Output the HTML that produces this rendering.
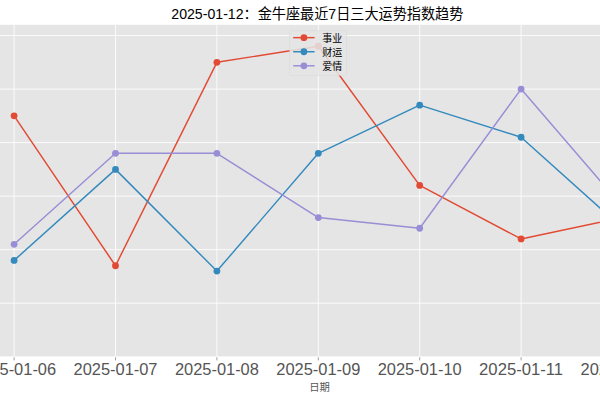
<!DOCTYPE html>
<html lang="zh"><head><meta charset="utf-8"><title>2025-01-12：金牛座最近7日三大运势指数趋势</title>
<style>html,body{margin:0;padding:0;background:#fff;overflow:hidden}body{width:600px;height:400px;font-family:"Liberation Sans",sans-serif}svg{display:block}</style>
</head><body>
<svg width="600" height="400" viewBox="0 0 600 400" role="img" aria-label="2025-01-12：金牛座最近7日三大运势指数趋势">
<rect width="600" height="400" fill="#fff"/>
<rect x="0" y="24.8" width="600" height="331.6" fill="#E5E5E5"/>
<path d="M14.1 24.8V356.4M115.5 24.8V356.4M216.9 24.8V356.4M318.3 24.8V356.4M419.7 24.8V356.4M521.1 24.8V356.4M0 35.55H600M0 89.08H600M0 142.61H600M0 196.14H600M0 249.67H600M0 303.2H600" stroke="#fff" stroke-width="0.85" fill="none"/>
<path d="M14.1 357.3v3.1M115.5 357.3v3.1M216.9 357.3v3.1M318.3 357.3v3.1M419.7 357.3v3.1M521.1 357.3v3.1" stroke="#555" stroke-opacity="0.7" stroke-width="0.8" fill="none"/>
<defs><clipPath id="c"><rect x="0" y="24.8" width="600" height="331.6"/></clipPath></defs>
<g clip-path="url(#c)">
<g><title>事业</title><polyline points="14.1,115.84 115.5,265.73 216.9,62.31 318.3,46.26 419.7,185.43 521.1,238.96 622.5,217.55" fill="none" stroke="#E24A33" stroke-width="1.45" stroke-linejoin="round" stroke-linecap="butt"/>
<circle cx="14.1" cy="115.84" r="3.4" fill="#E24A33"/>
<circle cx="115.5" cy="265.73" r="3.4" fill="#E24A33"/>
<circle cx="216.9" cy="62.31" r="3.4" fill="#E24A33"/>
<circle cx="318.3" cy="46.26" r="3.4" fill="#E24A33"/>
<circle cx="419.7" cy="185.43" r="3.4" fill="#E24A33"/>
<circle cx="521.1" cy="238.96" r="3.4" fill="#E24A33"/>
<circle cx="622.5" cy="217.55" r="3.4" fill="#E24A33"/>
</g>
<g><title>财运</title><polyline points="14.1,260.38 115.5,169.38 216.9,271.08 318.3,153.32 419.7,105.14 521.1,137.26 622.5,228.26" fill="none" stroke="#348ABD" stroke-width="1.45" stroke-linejoin="round" stroke-linecap="butt"/>
<circle cx="14.1" cy="260.38" r="3.4" fill="#348ABD"/>
<circle cx="115.5" cy="169.38" r="3.4" fill="#348ABD"/>
<circle cx="216.9" cy="271.08" r="3.4" fill="#348ABD"/>
<circle cx="318.3" cy="153.32" r="3.4" fill="#348ABD"/>
<circle cx="419.7" cy="105.14" r="3.4" fill="#348ABD"/>
<circle cx="521.1" cy="137.26" r="3.4" fill="#348ABD"/>
<circle cx="622.5" cy="228.26" r="3.4" fill="#348ABD"/>
</g>
<g><title>爱情</title><polyline points="14.1,244.32 115.5,153.32 216.9,153.32 318.3,217.55 419.7,228.26 521.1,89.08 622.5,206.85" fill="none" stroke="#988ED5" stroke-width="1.45" stroke-linejoin="round" stroke-linecap="butt"/>
<circle cx="14.1" cy="244.32" r="3.4" fill="#988ED5"/>
<circle cx="115.5" cy="153.32" r="3.4" fill="#988ED5"/>
<circle cx="216.9" cy="153.32" r="3.4" fill="#988ED5"/>
<circle cx="318.3" cy="217.55" r="3.4" fill="#988ED5"/>
<circle cx="419.7" cy="228.26" r="3.4" fill="#988ED5"/>
<circle cx="521.1" cy="89.08" r="3.4" fill="#988ED5"/>
<circle cx="622.5" cy="206.85" r="3.4" fill="#988ED5"/>
</g>
</g>
<rect x="289.6" y="30.6" width="57" height="45" rx="2" ry="2" fill="#E5E5E5" fill-opacity="0.87" stroke="#D4D4D4" stroke-opacity="0.4" stroke-width="0.8"/>
<g><title>事业</title>
<path d="M293.2 37.65H314.6" stroke="#E24A33" stroke-width="1.45" fill="none"/>
<circle cx="303.9" cy="37.65" r="3.4" fill="#E24A33"/>
<text x="322.2" y="41.7" font-size="10" fill="#000" font-family="'Liberation Sans','Noto Sans CJK SC',sans-serif">事业</text>
</g>
<g><title>财运</title>
<path d="M293.2 51.75H314.6" stroke="#348ABD" stroke-width="1.45" fill="none"/>
<circle cx="303.9" cy="51.75" r="3.4" fill="#348ABD"/>
<text x="322.2" y="55.8" font-size="10" fill="#000" font-family="'Liberation Sans','Noto Sans CJK SC',sans-serif">财运</text>
</g>
<g><title>爱情</title>
<path d="M293.2 65.8H314.6" stroke="#988ED5" stroke-width="1.45" fill="none"/>
<circle cx="303.9" cy="65.8" r="3.4" fill="#988ED5"/>
<text x="322.2" y="69.8" font-size="10" fill="#000" font-family="'Liberation Sans','Noto Sans CJK SC',sans-serif">爱情</text>
</g>
<g><title>2025-01-12：金牛座最近7日三大运势指数趋势</title><text x="317.3" y="18.5" font-size="14.3" fill="#000" text-anchor="middle" textLength="292" lengthAdjust="spacingAndGlyphs" font-family="'Liberation Sans','Noto Sans CJK SC',sans-serif">2025-01-12：金牛座最近7日三大运势指数趋势</text></g>
<g><title>2025-01-06</title><text x="14.1" y="375.45" font-size="16" fill="#555" text-anchor="middle" textLength="84" lengthAdjust="spacingAndGlyphs" font-family="'Liberation Sans',sans-serif">2025-01-06</text></g>
<g><title>2025-01-07</title><text x="115.5" y="375.45" font-size="16" fill="#555" text-anchor="middle" textLength="84" lengthAdjust="spacingAndGlyphs" font-family="'Liberation Sans',sans-serif">2025-01-07</text></g>
<g><title>2025-01-08</title><text x="216.9" y="375.45" font-size="16" fill="#555" text-anchor="middle" textLength="84" lengthAdjust="spacingAndGlyphs" font-family="'Liberation Sans',sans-serif">2025-01-08</text></g>
<g><title>2025-01-09</title><text x="318.3" y="375.45" font-size="16" fill="#555" text-anchor="middle" textLength="84" lengthAdjust="spacingAndGlyphs" font-family="'Liberation Sans',sans-serif">2025-01-09</text></g>
<g><title>2025-01-10</title><text x="419.7" y="375.45" font-size="16" fill="#555" text-anchor="middle" textLength="84" lengthAdjust="spacingAndGlyphs" font-family="'Liberation Sans',sans-serif">2025-01-10</text></g>
<g><title>2025-01-11</title><text x="521.1" y="375.45" font-size="16" fill="#555" text-anchor="middle" textLength="84" lengthAdjust="spacingAndGlyphs" font-family="'Liberation Sans',sans-serif">2025-01-11</text></g>
<g><title>2025-01-12</title><text x="622.5" y="375.45" font-size="16" fill="#555" text-anchor="middle" textLength="84" lengthAdjust="spacingAndGlyphs" font-family="'Liberation Sans',sans-serif">2025-01-12</text></g>
<g><title>日期</title><text x="319.5" y="390.9" font-size="10.3" fill="#555" text-anchor="middle" font-family="'Liberation Sans','Noto Sans CJK SC',sans-serif">日期</text></g>
</svg>
</body></html>
